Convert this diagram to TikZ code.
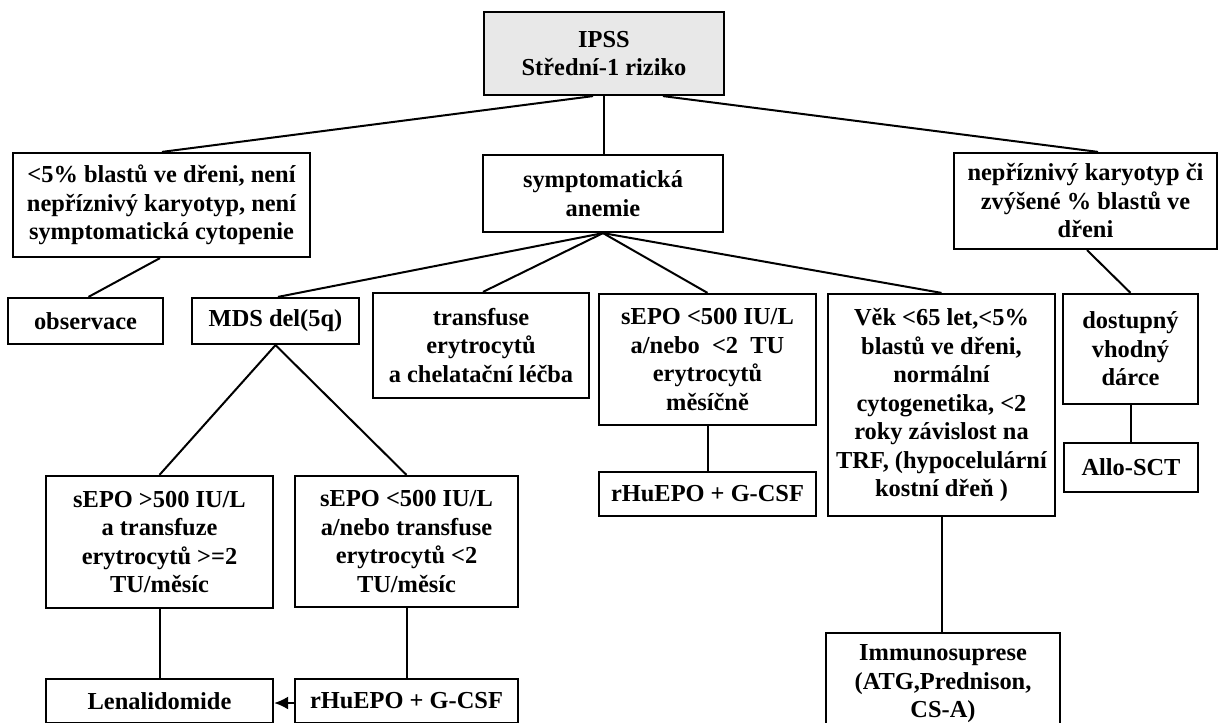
\documentclass[tikz,border=0pt]{standalone}
\usepackage{fontspec}
\setmainfont{Liberation Serif}
\usetikzlibrary{calc,arrows.meta}
\definecolor{ipssgray}{HTML}{E8E8E8}
\tikzset{
  box/.style={draw=black, line width=1.1pt, rectangle, inner sep=0pt, align=center,
    font=\fontsize{12.2}{14.25}\selectfont\bfseries},
  conn/.style={draw=black, line width=1pt},
}
\begin{document}
\begin{tikzpicture}[x=0.5pt,y=-0.5pt]
\useasboundingbox (0,0) rectangle (1218,722);
% boxes
\node[box, fill=ipssgray, minimum width=120pt, minimum height=41.5pt] (ipss) at (604,53.5) {IPSS\\Střední-1 riziko};
\node[box, minimum width=148.5pt, minimum height=52pt] (crit) at (161.5,205) {<5\% blastů ve dřeni, není\\nepříznivý karyotyp, není\\symptomatická cytopenie};
\node[box, minimum width=120pt, minimum height=38.5pt] (symp) at (603,193.5) {symptomatická\\anemie};
\node[box, minimum width=131.5pt, minimum height=48pt] (nepr) at (1085.5,201) {nepříznivý karyotyp či\\zvýšené \% blastů ve\\dřeni};
\node[box, minimum width=77.5pt, minimum height=23pt] (obs) at (85.5,321) {observace};
\node[box, minimum width=83.5pt, minimum height=23pt] (mds) at (275.5,321) {MDS del(5q)};
\node[box, minimum width=108pt, minimum height=52.5pt] (transf) at (481,345.5) {transfuse\\erytrocytů\\a chelatační léčba};
\node[box, minimum width=108.5pt, minimum height=65.5pt] (sepo) at (707.5,359.5) {sEPO <500 IU/L\\a/nebo\ \ <2\ \ TU\\erytrocytů\\měsíčně};
\node[box, minimum width=113.5pt, minimum height=111pt] (vek) at (941.5,405) {Věk <65 let,<5\%\\blastů ve dřeni,\\normální\\cytogenetika, <2\\roky závislost na\\TRF, (hypocelulární\\kostní dřeň )};
\node[box, minimum width=67.5pt, minimum height=55pt] (dost) at (1130.5,349) {dostupný\\vhodný\\dárce};
\node[box, minimum width=67pt, minimum height=24.5pt] (allo) at (1131,467.5) {Allo-SCT};
\node[box, minimum width=108.5pt, minimum height=22pt] (rhua) at (707.5,494) {rHuEPO + G-CSF};
\node[box, minimum width=113.5pt, minimum height=66pt] (sepoa) at (159.5,542) {sEPO >500 IU/L\\a transfuze\\erytrocytů >=2\\TU/měsíc};
\node[box, minimum width=111.5pt, minimum height=65.5pt] (sepob) at (406.5,541.5) {sEPO <500 IU/L\\a/nebo transfuse\\erytrocytů <2\\TU/měsíc};
\node[box, minimum width=113.5pt, minimum height=22pt] (lena) at (159.5,701) {Lenalidomide};
\node[box, minimum width=111.5pt, minimum height=22pt] (rhub) at (406.5,701) {rHuEPO + G-CSF};
\node[box, minimum width=117pt, minimum height=51pt] (immu) at (943,684) {Immunosuprese\\(ATG,Prednison,\\CS-A)};
% connectors
\draw[conn] ($(ipss.south)+(-11,0)$) -- ($(crit.north)+(0.5,0)$);
\draw[conn] (ipss.south) -- (ipss.south |- symp.north);
\draw[conn] ($(ipss.south)+(59,0)$) -- ($(nepr.north)+(12.5,0)$);
\draw[conn] ($(crit.south)+(-1.5,0)$) -- ($(obs.north)+(3,0)$);
\draw[conn] (symp.south) -- ($(mds.north)+(2.5,0)$);
\draw[conn] (symp.south) -- ($(transf.north)+(2,0)$);
\draw[conn] (symp.south) -- (sepo.north);
\draw[conn] (symp.south) -- (vek.north);
\draw[conn] ($(nepr.south)+(1.5,0)$) -- (dost.north);
\draw[conn] (dost.south) -- (dost.south |- allo.north);
\draw[conn] (vek.south) -- (vek.south |- immu.north);
\draw[conn] (sepo.south) -- (sepo.south |- rhua.north);
\draw[conn] (mds.south) -- (sepoa.north);
\draw[conn] (mds.south) -- (sepob.north);
\draw[conn] (sepoa.south) -- (lena.north);
\draw[conn] (sepob.south) -- (rhub.north);
\draw[conn, -{Latex[length=7pt,width=6.5pt]}] ($(rhub.west)+(0,2)$) -- ($(lena.east)+(0,2)$);
\end{tikzpicture}
\end{document}
